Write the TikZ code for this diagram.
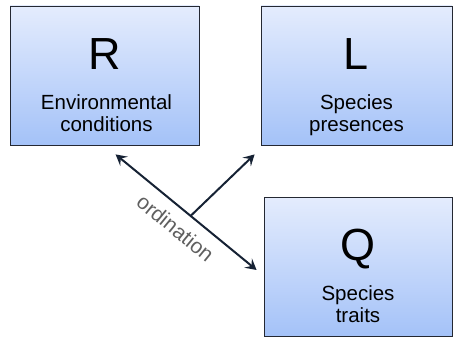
\documentclass[tikz,border=0pt]{standalone}
\usepackage{fontspec}
\setmainfont{Liberation Sans}
\usetikzlibrary{arrows.meta,calc}
\definecolor{boxtop}{RGB}{228,236,253}
\definecolor{boxbot}{RGB}{164,194,248}
\definecolor{boxline}{RGB}{36,40,50}
\definecolor{arrowcol}{RGB}{22,34,52}
\definecolor{ordcol}{RGB}{95,95,95}
\tikzset{
  panel/.style={draw=boxline, line width=0.8pt, top color=boxtop, bottom color=boxbot,
    minimum height=139pt, inner sep=0pt},
  bigletter/.style={font=\fontsize{45}{50}\selectfont, anchor=base, inner sep=0pt},
  caption/.style={font=\fontsize{20.5}{24}\selectfont, anchor=base, inner sep=0pt},
  link/.style={draw=arrowcol, line width=2pt, {Stealth[length=11pt,width=12pt,inset=4.5pt]}-{Stealth[length=11pt,width=12pt,inset=4.5pt]}},
  onelink/.style={draw=arrowcol, line width=2pt, -{Stealth[length=11pt,width=12pt,inset=4.5pt]}}
}
\begin{document}
\begin{tikzpicture}[x=1pt,y=1pt]
\useasboundingbox (0,0) rectangle (454,338);
% boxes
\node[panel, minimum width=189pt] (R) at (104.5,262.5) {};
\node[panel, minimum width=191pt] (L) at (356.5,262.5) {};
\node[panel, minimum width=188pt] (Q) at (358,71.5) {};
% texts
\node[bigletter] (Rl) at ($(R.north)+(0,-64)$) {R};
\node[caption] (Rt1) at ($(R.north)+(2,-104)$) {Environmental};
\node[caption] (Rt2) at ($(R.north)+(2,-126)$) {conditions};
\node[bigletter] (Ll) at ($(L.north)+(0,-64)$) {L};
\node[caption] (Lt1) at ($(L.north)+(0,-104)$) {Species};
\node[caption] (Lt2) at ($(L.north)+(0,-126)$) {presences};
\node[bigletter] (Ql) at ($(Q.north)+(0,-64)$) {Q};
\node[caption] (Qt1) at ($(Q.north)+(0,-104)$) {Species};
\node[caption] (Qt2) at ($(Q.north)+(0,-126)$) {traits};
% connectors
\coordinate (a1) at ($(R.south west)+(106,-9)$);
\coordinate (a2) at ($(Q.west)+(-7,-3.5)$);
\coordinate (b2) at ($(L.south west)+(-6,-9)$);
\draw[link] (a1) -- (a2)
  node[pos=0.51, sloped, below=7pt, font=\fontsize{21}{24}\selectfont, text=ordcol] (ord) {ordination}
  coordinate[pos=0.532] (mid);
\draw[onelink] (mid) -- (b2);
\end{tikzpicture}
\end{document}
